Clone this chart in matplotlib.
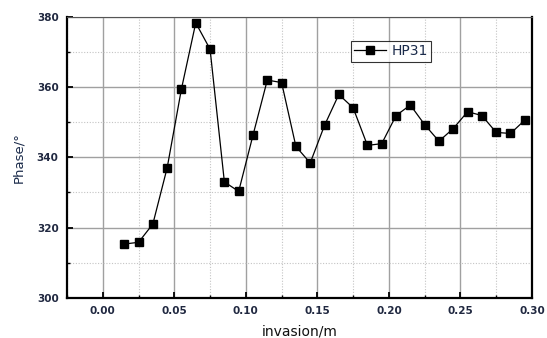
import matplotlib
matplotlib.use("Agg")
import matplotlib.pyplot as plt
from matplotlib.ticker import MultipleLocator

x = [0.015, 0.025, 0.035, 0.045, 0.055, 0.065, 0.075, 0.085, 0.095, 0.105,
     0.115, 0.125, 0.135, 0.145, 0.155, 0.165, 0.175, 0.185, 0.195, 0.205,
     0.215, 0.225, 0.235, 0.245, 0.255, 0.265, 0.275, 0.285, 0.295]
phase = [315.3, 315.8, 321.0, 337.0, 359.5, 378.3, 370.8, 333.0, 330.3, 346.3,
         362.0, 361.3, 343.1, 338.4, 349.1, 357.9, 354.1, 343.4, 343.9, 351.9,
         354.9, 349.3, 344.6, 348.2, 353.0, 351.9, 347.1, 346.8, 350.6]
series_name = "HP31"

fig = plt.figure(figsize=(5.47, 3.38), dpi=100)
ax = fig.add_axes([0.1225, 0.119, 0.850, 0.831])

ax.plot(x, phase, color="black", lw=0.9, marker="s", markersize=5.3,
        markerfacecolor="black", markeredgecolor="black", label=series_name)

ax.set_xlim(-0.025, 0.30)
ax.set_ylim(300, 380)
ax.xaxis.set_major_locator(MultipleLocator(0.05))
ax.xaxis.set_minor_locator(MultipleLocator(0.025))
ax.yaxis.set_major_locator(MultipleLocator(20))
ax.yaxis.set_minor_locator(MultipleLocator(10))
ax.xaxis.set_major_formatter(plt.FuncFormatter(lambda v, p: f"{v:.2f}"))
ax.yaxis.set_major_formatter(plt.FuncFormatter(lambda v, p: f"{v:.0f}"))

ax.grid(which="major", color="#a0a0a0", lw=1.0, ls="-")
ax.grid(which="minor", color="#c4c4c4", lw=0.8, ls=(0, (1, 1.5)))
ax.set_axisbelow(True)

ax.tick_params(which="both", direction="in", color="black")
ax.tick_params(which="major", length=4, width=1.3, labelsize=7.5,
               labelcolor="#202840", pad=6)
ax.tick_params(which="minor", length=2.5, width=1.0)
for lab in ax.get_xticklabels() + ax.get_yticklabels():
    lab.set_fontweight("bold")

for s in ["left", "bottom", "right"]:
    ax.spines[s].set_linewidth(1.6)
    ax.spines[s].set_color("black")
ax.spines["top"].set_linewidth(0.8)
ax.spines["top"].set_color("#555555")

ax.set_xlabel("invasion/m", fontsize=10, color="#111111", labelpad=6)
ax.set_ylabel("Phase/°", fontsize=9.5, color="#1a2a4a", labelpad=8)

leg = ax.legend(loc="upper left", bbox_to_anchor=(0.61, 0.915), frameon=True,
                fancybox=False, fontsize=10, handlelength=2.3,
                borderpad=0.25, handletextpad=0.4, borderaxespad=0)
leg.get_frame().set_edgecolor("black")
leg.get_frame().set_linewidth(0.8)
leg.get_texts()[0].set_color("#1a2a4a")

fig.savefig("out.png", dpi=100)
